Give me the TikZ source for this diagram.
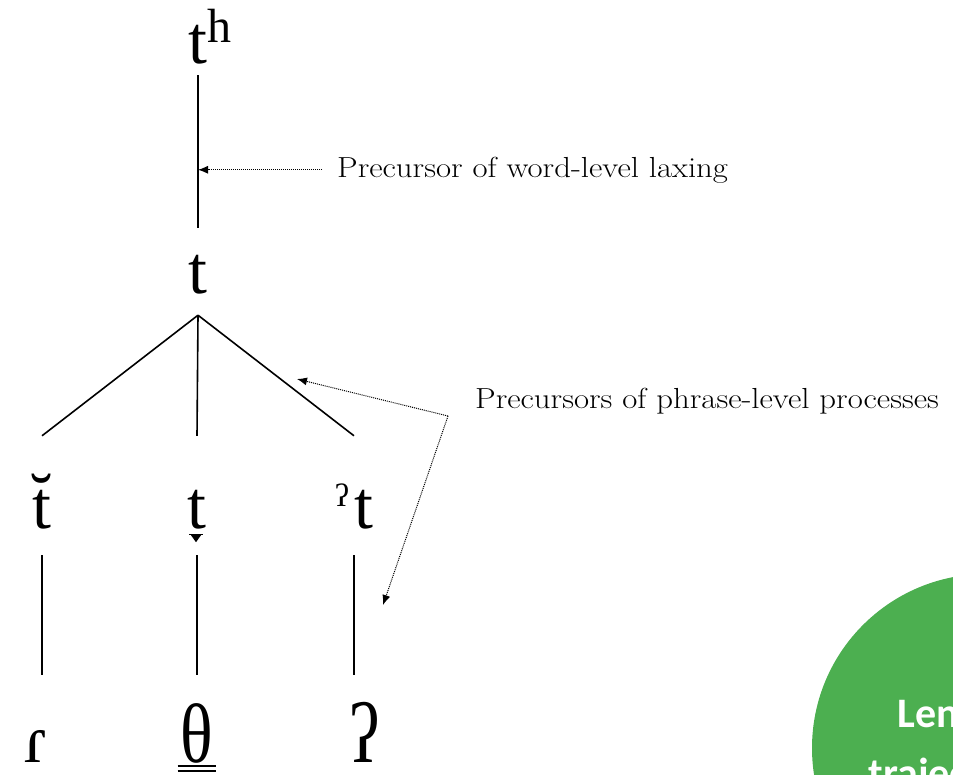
\documentclass[tikz,border=0pt]{standalone}
\usepackage{fontspec}
\newfontfamily\ipa{Liberation Serif}
\newfontfamily\slide{Carlito}
\usetikzlibrary{arrows.meta,calc}
\definecolor{leaf}{RGB}{76,175,80}

\begin{document}
\begin{tikzpicture}[x=1pt,y=-1pt,
  seg/.style={font=\ipa\fontsize{68}{68}\selectfont,inner sep=0pt,anchor=base,text height=40pt,text depth=0pt},
  note/.style={font=\fontsize{29}{35}\selectfont,inner sep=0pt,anchor=base west},
  branch/.style={line width=1.6pt},
  hint/.style={line width=1pt,dash pattern=on 1pt off 1pt,-{Latex[length=10pt,width=8pt]}}]
\useasboundingbox (0,0) rectangle (953,774);
\clip (0,0) rectangle (953,774);
% slide badge, cut by the frame
\fill[leaf] (986,748) circle (174pt);
\node[font=\slide\bfseries\fontsize{42}{60}\selectfont,text=white,align=center,anchor=base] (badge) at (968,787) {Lenition\\trajectories};
% segments
\node[seg] (th) at (198,63) {t\rlap{\raisebox{21pt}{\fontsize{48}{48}\selectfont h}}};
\node[seg] (t) at (198,293) {t};
\node[seg] (tb) at (42,528) {\u{t}};
\node[seg] (td) at (197,528) {t};
\node[seg] (tq) at (354,528) {\raisebox{22pt}{\fontsize{32}{32}\selectfont ʔ}\kern5pt t};
\node[seg] (tap) at (36,762) {ɾ};
\node[seg] (theta) at (197,762) {\scalebox{1}[1.24]{θ}};
\node[seg] (glot) at (365,762) {\scalebox{1}[1.25]{ʔ}};
% dental bridge and double line
\draw[line width=1.3pt] ([xshift=-8pt,yshift=-6pt]td.south) -- ([xshift=6pt,yshift=-6pt]td.south);
\fill ([xshift=-6pt,yshift=-7pt]td.south) -- ([xshift=4pt,yshift=-7pt]td.south) -- ([xshift=-1pt,yshift=-14pt]td.south) -- cycle;
\draw[line width=1.2pt] ([xshift=-3pt,yshift=-4pt]theta.base west) -- ([xshift=3pt,yshift=-4pt]theta.base east);
\draw[line width=1.2pt] ([xshift=-3pt,yshift=-9pt]theta.base west) -- ([xshift=3pt,yshift=-9pt]theta.base east);
% tree
\draw[branch,shorten <=12pt,shorten >=25pt] (th.south) -- (t.north);
\coordinate (fork) at ([yshift=-22pt]t.south);
\draw[branch] (fork) -- ([yshift=52pt]tb.north);
\draw[branch] (fork) -- ([yshift=52pt]td.north);
\draw[branch] (fork) -- ([yshift=52pt]tq.north);
\draw[branch,shorten <=27pt,shorten >=47pt] (tb.south) -- (tb.south |- tap.north);
\draw[branch,shorten <=27pt,shorten >=47pt] (td.south) -- (td.south |- theta.north);
\draw[branch,shorten <=27pt,shorten >=47pt] (tq.south) -- (tq.south |- glot.north);
% notes
\node[note] (lax) at (337,177) {\scalebox{1.13}[1]{Precursor of word-level laxing}};
\node[note] (phr) at (475,408) {\scalebox{1.13}[1]{Precursors of phrase-level processes}};
\draw[hint,shorten <=15pt] (lax.west) -- (lax.west -| th.south);
\coordinate (bend) at ([xshift=-27pt,yshift=-8pt]phr.base west);
\coordinate (tipA) at (297,379);
\coordinate (tipB) at (383,605);
\draw[hint] (bend) -- (tipA);
\draw[hint] (bend) -- (tipB);
\end{tikzpicture}
\end{document}
